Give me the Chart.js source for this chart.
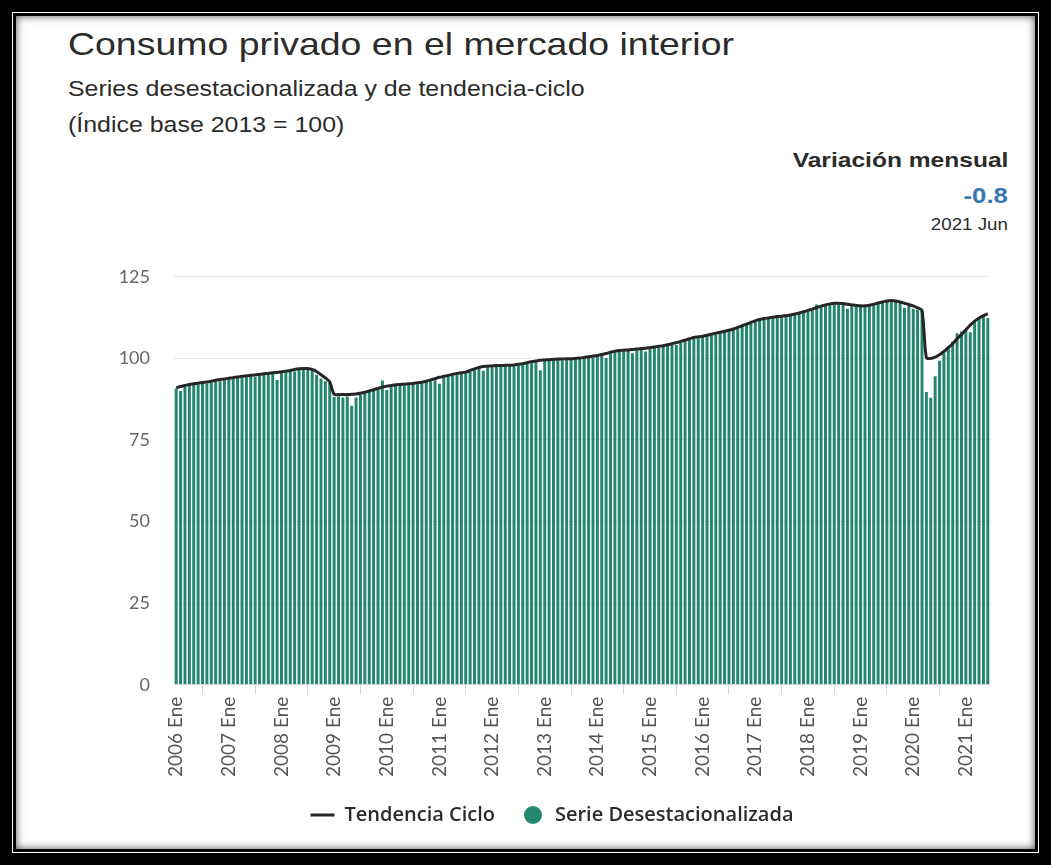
<!DOCTYPE html>
<html>
<head>
<meta charset="utf-8">
<script src="https://cdn.jsdelivr.net/npm/chart.js@4.4.0/dist/chart.umd.min.js"></script>
<style>
  body { margin: 0; background: #000; width: 1051px; height: 865px; overflow: hidden; font-family: "Liberation Sans", Arial, sans-serif; }
  .frame { position: absolute; left: 12px; top: 12px; width: 1025px; height: 839px; border: 1px solid #fff; }
  .inner { position: absolute; left: 0; top: 0; right: 0; bottom: 0; border: 3px solid #000; background: #fff; box-shadow: inset 0 0 8px rgba(0,0,0,0.7); }
  .title { position: absolute; left: 68px; top: 26px; font-size: 32px; color: #2b2b2b; transform: scaleX(1.17); transform-origin: left top; white-space: nowrap; }
  .sub { position: absolute; left: 68px; font-size: 21.3px; color: #2b2b2b; transform: scaleX(1.17); transform-origin: left top; white-space: nowrap; }
  .var { position: absolute; right: 43px; text-align: right; color: #2b2b2b; transform: scaleX(1.17); transform-origin: right top; white-space: nowrap; }
  #chartBox { position: absolute; left: 52px; top: 242px; }
</style>
</head>
<body>
<div class="frame"><div class="inner"></div></div>
<div class="title">Consumo privado en el mercado interior</div>
<div class="sub" style="top:77px">Series desestacionalizada y de tendencia-ciclo</div>
<div class="sub" style="top:113px">(Índice base 2013 = 100)</div>
<div class="var" style="top:148px; font-size:21px; font-weight:bold">Variación mensual</div>
<div class="var" style="top:183px; font-size:22px; font-weight:bold; color:#3576b4">-0.8</div>
<div class="var" style="top:216px; font-size:16px">2021 Jun</div>
<div id="chartBox"><canvas id="myChart" width="1000" height="605"></canvas></div>

<script>
// categorias
var years = [2006, 2007, 2008, 2009, 2010, 2011, 2012, 2013, 2014, 2015, 2016, 2017, 2018, 2019, 2020, 2021];
var months = ['Ene', 'Feb', 'Mar', 'Abr', 'May', 'Jun', 'Jul', 'Ago', 'Sep', 'Oct', 'Nov', 'Dic'];
var yTicks = [0, 25, 50, 75, 100, 125];

// serie desestacionalizada (barras), una fila por año
var desest = [
  90.8, 90.0, 91.2, 91.6, 91.9, 92.0, 92.3, 92.4, 92.6, 93.0, 93.0, 93.4,
  93.6, 93.9, 94.2, 94.2, 94.6, 94.5, 94.3, 95.0, 95.1, 94.9, 95.4, 93.4,
  95.7, 95.9, 96.3, 96.0, 96.5, 96.7, 96.6, 96.2, 95.0, 93.8, 93.0, 92.5,
  88.2, 88.3, 88.0, 88.3, 85.5, 88.0, 88.9, 89.4, 90.0, 90.4, 90.6, 93.2,
  90.3, 91.4, 91.6, 91.7, 91.8, 91.9, 92.0, 92.1, 92.4, 92.8, 93.0, 93.3,
  92.2, 94.2, 94.5, 94.7, 95.0, 95.3, 95.5, 96.0, 96.5, 96.9, 96.2, 97.2,
  97.3, 97.4, 97.5, 97.5, 97.6, 97.6, 97.8, 98.0, 98.3, 98.6, 98.8, 96.4,
  99.2, 99.3, 99.4, 99.5, 99.4, 99.6, 99.6, 99.7, 99.8, 100.0, 100.2, 100.3,
  100.6, 100.9, 100.1, 101.6, 101.9, 102.1, 102.2, 102.3, 101.6, 102.6, 102.7, 102.1,
  103.0, 103.2, 103.4, 103.6, 103.9, 104.2, 104.1, 104.9, 105.3, 105.7, 106.0, 106.3,
  106.5, 106.8, 107.1, 107.2, 107.7, 108.0, 108.3, 108.7, 109.2, 109.7, 110.2, 110.7,
  111.2, 111.6, 111.9, 112.1, 112.3, 112.5, 112.6, 112.8, 113.0, 113.3, 113.6, 114.0,
  114.4, 114.8, 116.5, 115.7, 116.1, 116.4, 116.6, 116.6, 116.5, 115.2, 116.1, 115.9,
  115.8, 115.8, 116.0, 116.3, 116.7, 117.0, 117.3, 117.4, 117.3, 117.0, 115.5, 116.2,
  115.2, 114.9, 114.7, 89.7, 87.9, 94.5, 99.3, 101.6, 103.7, 105.2, 107.7, 108.2,
  108.8, 108.0, 111.3, 112.3, 113.3, 112.4
];

// tendencia ciclo (linea)
var tendencia = [
  91.0, 91.4, 91.7, 92.0, 92.2, 92.4, 92.6, 92.8, 93.0, 93.3, 93.5, 93.7,
  93.9, 94.1, 94.3, 94.5, 94.7, 94.8, 94.9, 95.1, 95.3, 95.4, 95.6, 95.7,
  95.9, 96.1, 96.3, 96.6, 96.8, 96.9, 96.9, 96.6, 96.0, 95.0, 94.0, 92.8,
  89.0, 88.9, 88.9, 88.9, 89.0, 89.1, 89.3, 89.6, 90.0, 90.4, 90.8, 91.2,
  91.5, 91.7, 91.9, 92.0, 92.1, 92.2, 92.3, 92.5, 92.7, 93.0, 93.4, 93.8,
  94.2, 94.5, 94.8, 95.1, 95.4, 95.6, 95.8, 96.3, 96.8, 97.2, 97.5, 97.6,
  97.7, 97.8, 97.8, 97.9, 97.9, 98.0, 98.2, 98.4, 98.7, 99.0, 99.2, 99.4,
  99.5, 99.6, 99.7, 99.8, 99.8, 99.9, 99.9, 100.0, 100.1, 100.3, 100.5, 100.7,
  100.9, 101.2, 101.5, 101.9, 102.2, 102.4, 102.5, 102.6, 102.7, 102.9, 103.0, 103.1,
  103.3, 103.5, 103.7, 103.9, 104.2, 104.5, 104.8, 105.2, 105.6, 106.0, 106.4, 106.6,
  106.8, 107.1, 107.4, 107.7, 108.0, 108.3, 108.6, 109.0, 109.5, 110.0, 110.5, 111.0,
  111.5, 111.9, 112.2, 112.4, 112.6, 112.8, 112.9, 113.1, 113.3, 113.6, 113.9, 114.3,
  114.7, 115.1, 115.6, 116.0, 116.4, 116.7, 116.9, 116.9, 116.8, 116.6, 116.4, 116.2,
  116.1, 116.1, 116.3, 116.6, 117.0, 117.3, 117.6, 117.7, 117.6, 117.3, 116.9, 116.5,
  116.1, 115.5, 114.7, 100.2, 100.0, 100.4, 101.1, 102.1, 103.3, 104.5, 106.0, 107.3,
  108.8, 110.2, 111.4, 112.4, 113.1, 113.7
];

var labels = [];
years.forEach(function (y) {
  months.forEach(function (m) {
    if (labels.length < desest.length) labels.push(y + ' ' + m);
  });
});

var barColor = '#25866f';
var lineColor = '#262626';

// circulo de la leyenda (18px)
var dot = document.createElement('canvas');
dot.width = 18;
dot.height = 18;
var dctx = dot.getContext('2d');
dctx.fillStyle = barColor;
dctx.beginPath();
dctx.arc(9, 9, 9, 0, Math.PI * 2);
dctx.fill();

var config = {
  type: 'bar',
  data: {
    labels: labels,
    datasets: [{
      type: 'line',
      label: 'Tendencia Ciclo',
      data: tendencia,
      borderColor: lineColor,
      backgroundColor: lineColor,
      borderWidth: 3,
      pointRadius: 0,
      tension: 0.3,
      order: 0
    }, {
      label: 'Serie Desestacionalizada',
      data: desest,
      backgroundColor: barColor,
      borderWidth: 0,
      barPercentage: 0.68,
      categoryPercentage: 1,
      order: 1
    }]
  },
  options: {
    responsive: false,
    animation: false,
    layout: {
      padding: { left: 62, right: 62, top: 22, bottom: 12 }
    },
    plugins: {
      tooltip: { enabled: false },
      legend: {
        position: 'bottom',
        labels: {
          usePointStyle: true,
          pointStyleWidth: 24,
          boxHeight: 13,
          padding: 26,
          color: '#2b2b2b',
          font: { family: 'Open Sans', size: 20, weight: '600' },
          generateLabels: function (chart) {
            var items = Chart.defaults.plugins.legend.labels.generateLabels(chart);
            items[0].pointStyle = 'line';
            items[0].lineWidth = 3;
            items[0].strokeStyle = lineColor;
            items[1].pointStyle = dot;
            items[1].lineWidth = 0;
            items[1].fillStyle = barColor;
            return items;
          }
        }
      }
    },
    scales: {
      x: {
        border: { display: false },
        grid: {
          drawOnChartArea: false,
          drawTicks: true,
          tickLength: 10,
          color: '#ccd6eb'
        },
        ticks: {
          autoSkip: false,
          minRotation: 90,
          maxRotation: 90,
          padding: 2,
          color: '#555',
          font: { family: 'Lato', size: 19 },
          callback: function (v, i) {
            return i % 12 === 0 ? labels[i] : null;
          }
        }
      },
      y: {
        min: 0,
        max: 125,
        border: { display: false },
        afterFit: function (axis) {
          axis.width = 60;
        },
        grid: { color: '#e6e6e6', drawTicks: false },
        afterBuildTicks: function (axis) {
          axis.ticks = yTicks.map(function (v) { return { value: v }; });
        },
        ticks: {
          padding: 24,
          color: '#666',
          font: { family: 'Lato', size: 18 }
        }
      }
    }
  }
};

// Create the chart
var myChart = new Chart(document.getElementById('myChart'), config);
</script>
</body>
</html>
